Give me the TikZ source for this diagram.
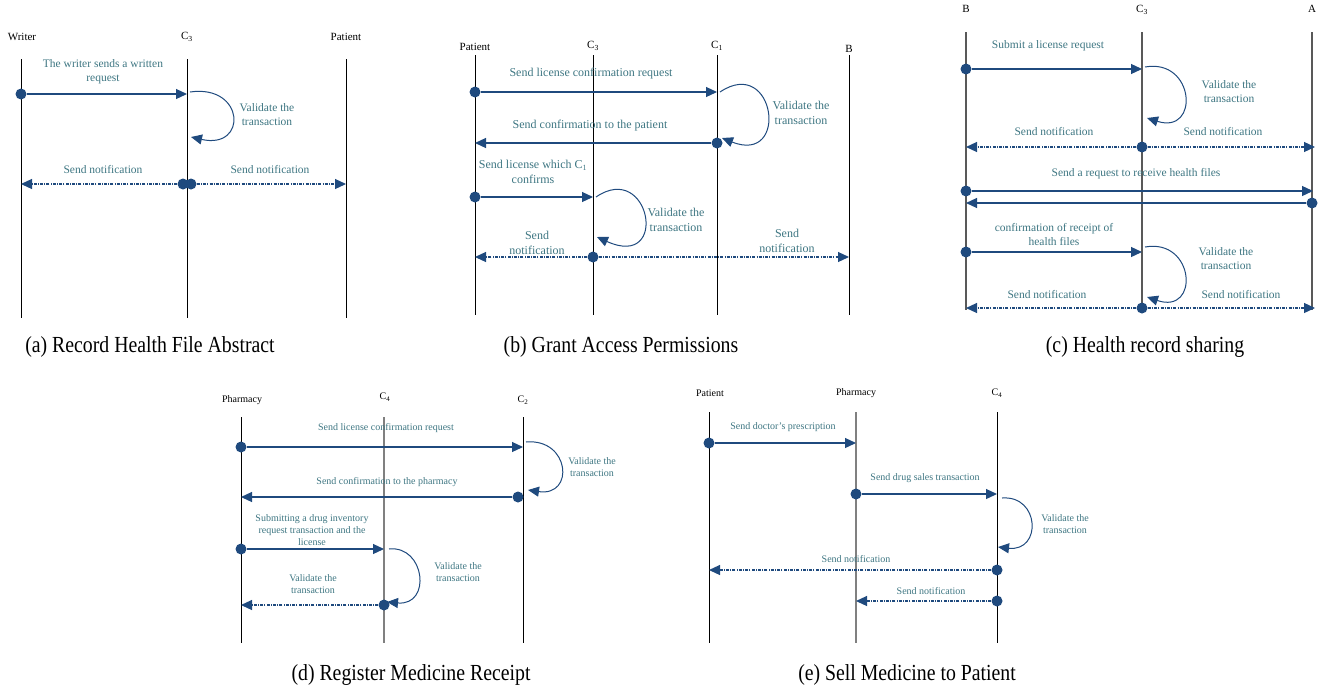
\documentclass[tikz,border=0pt]{standalone}
\usepackage{fontspec}
\setmainfont{Liberation Serif}
\usetikzlibrary{arrows.meta}
\definecolor{navy}{HTML}{1F4A7E}
\definecolor{lbl}{HTML}{3E7682}
\newcommand{\captionsq}[1]{\scalebox{0.86}[1]{#1}}
\begin{document}
\begin{tikzpicture}[x=1pt,y=-1pt,
 life/.style={line width=1pt, black},
 lifeg/.style={line width=1.8pt, black!50},
 lifec/.style={line width=1.3pt, black!65},
 hd/.style={font=\fontsize{11}{12}\selectfont, text=black, inner sep=0},
 hds/.style={font=\fontsize{10}{11}\selectfont, text=black, inner sep=0},
 lb/.style={font=\fontsize{11.5}{14}\selectfont, text=lbl, align=center, inner sep=0},
 lbb/.style={font=\fontsize{12}{14.5}\selectfont, text=lbl, align=center, inner sep=0},
 lbs/.style={font=\fontsize{10}{12}\selectfont, text=lbl, align=center, inner sep=0},
 dot/.style={circle, fill=navy, minimum size=11pt, inner sep=0},
 msg/.style={navy, line width=1.2pt, -{Triangle[length=11pt,width=10pt]}},
 ntf/.style={msg, dash pattern=on 3pt off 1.2pt on 1pt off 1.2pt},
 selfloop/.style={navy, line width=1pt, -{Triangle[length=11pt,width=10pt]}},
 captxt/.style={font=\fontsize{23}{26}\selectfont, text=black, inner sep=0}]
\useasboundingbox (0,0) rectangle (1332,694);

% ================= (a) =================
\node[hd] (aWh) at (22,37) {Writer};
\node[hd] (aCh) at (187,37) {C\textsubscript{3}};
\node[hd] (aPh) at (346,37) {Patient};
\draw[life] (21,59) coordinate (aWt) -- (21,318) coordinate (aWb);
\draw[life] (187,59) coordinate (aCt) -- (187,318) coordinate (aCb);
\draw[life] (346,59) coordinate (aPt) -- (346,318) coordinate (aPb);
\node[lb] (al1) at (103,72) {The writer sends a written\\request};
\node[dot] (ad1) at (21,94) {};
\coordinate (aC1) at (187,94);
\draw[msg] (ad1) -- (aC1);
\coordinate (aL1s) at (190,92);
\coordinate (aL1e) at (191,137);
\draw[selfloop] (aL1s) .. controls (245,84) and (248,150) .. (aL1e);
\node[lb] (al2) at (267,115) {Validate the\\transaction};
\node[lb] (al3) at (103,170) {Send notification};
\node[lb] (al4) at (270,170) {Send notification};
\node[dot] (ad2) at (183,184) {};
\node[dot] (ad3) at (191,184) {};
\coordinate (aW2) at (21,184);
\coordinate (aP2) at (346,184);
\draw[ntf] (ad2) -- (aW2);
\draw[ntf] (ad3) -- (aP2);
\node[captxt] (acap) at (150,347) {\captionsq{(a) Record Health File Abstract}};

% ================= (b) =================
\node[hd] (bPh) at (475,47) {Patient};
\node[hd] (bC3h) at (593,46) {C\textsubscript{3}};
\node[hd] (bC1h) at (717,46) {C\textsubscript{1}};
\node[hd] (bBh) at (849,49) {B};
\draw[life] (475,55) coordinate (bPt) -- (475,315) coordinate (bPb);
\draw[life] (593,55) coordinate (bC3t) -- (593,315) coordinate (bC3b);
\draw[life] (717,55) coordinate (bC1t) -- (717,315) coordinate (bC1b);
\draw[life] (849,55) coordinate (bBt) -- (849,315) coordinate (bBb);
\node[lbb] (bl1) at (591,74) {Send license confirmation request};
\node[dot] (bd1) at (475,92) {};
\coordinate (bC1a) at (717,92);
\draw[msg] (bd1) -- (bC1a);
\coordinate (bL1s) at (720,92);
\coordinate (bL1e) at (722,138);
\draw[selfloop] (bL1s) .. controls (775,55) and (790,165) .. (bL1e);
\node[lbb] (bl2) at (801,113) {Validate the\\transaction};
\node[lbb] (bl3) at (590,126) {Send confirmation to the patient};
\node[dot] (bd2) at (717,143) {};
\coordinate (bPa) at (475,143);
\draw[msg] (bd2) -- (bPa);
\node[lbb] (bl4) at (533,172) {Send license which C\textsubscript{1}\\confirms};
\node[dot] (bd3) at (475,197) {};
\coordinate (bC3a) at (593,197);
\draw[msg] (bd3) -- (bC3a);
\coordinate (bL2s) at (596,197);
\coordinate (bL2e) at (597,237);
\draw[selfloop] (bL2s) .. controls (650,160) and (670,270) .. (bL2e);
\node[lbb] (bl5) at (676,220) {Validate the\\transaction};
\node[lbb] (bl6) at (537,243) {Send\\notification};
\node[lbb] (bl7) at (787,241) {Send\\notification};
\node[dot] (bd4) at (593,257) {};
\coordinate (bPn) at (475,257);
\coordinate (bBn) at (849,257);
\draw[ntf] (bd4) -- (bPn);
\draw[ntf] (bd4) -- (bBn);
\node[captxt] (bcap) at (621,347) {\captionsq{(b) Grant Access Permissions}};

% ================= (c) =================
\node[hd] (cBh) at (966,9) {B};
\node[hd] (cC3h) at (1142,10) {C\textsubscript{3}};
\node[hd] (cAh) at (1312,9) {A};
\draw[lifec] (966,32) coordinate (cBt) -- (966,310) coordinate (cBb);
\draw[lifec] (1142,32) coordinate (cCt) -- (1142,310) coordinate (cCb);
\draw[lifec] (1312,32) coordinate (cAt) -- (1312,310) coordinate (cAb);
\node[lb] (cl1) at (1048,46) {Submit a license request};
\node[dot] (cd1) at (966,69) {};
\coordinate (cC1) at (1142,69);
\draw[msg] (cd1) -- (cC1);
\coordinate (cL1s) at (1145,67);
\coordinate (cL1e) at (1147,118);
\draw[selfloop] (cL1s) .. controls (1195,58) and (1200,135) .. (cL1e);
\node[lb] (cl2) at (1229,92) {Validate the\\transaction};
\node[lb] (cl3) at (1054,132) {Send notification};
\node[lb] (cl4) at (1223,132) {Send notification};
\node[dot] (cd2) at (1142,147) {};
\coordinate (cB2) at (966,147);
\coordinate (cA2) at (1315,147);
\draw[ntf] (cd2) -- (cB2);
\draw[ntf] (cd2) -- (cA2);
\node[lb] (cl5) at (1136,174) {Send a request to receive health files};
\node[dot] (cd3) at (966,191) {};
\coordinate (cA3) at (1313,191);
\draw[msg] (cd3) -- (cA3);
\node[dot] (cd4) at (1312,203) {};
\coordinate (cB4) at (966,203);
\draw[msg] (cd4) -- (cB4);
\node[lb] (cl6) at (1054,235) {confirmation of receipt of\\health files};
\node[dot] (cd5) at (966,252) {};
\coordinate (cC5) at (1142,252);
\draw[msg] (cd5) -- (cC5);
\coordinate (cL2s) at (1145,247);
\coordinate (cL2e) at (1147,297);
\draw[selfloop] (cL2s) .. controls (1195,238) and (1200,315) .. (cL2e);
\node[lb] (cl7) at (1226,259) {Validate the\\transaction};
\node[lb] (cl8) at (1047,295) {Send notification};
\node[lb] (cl9) at (1241,295) {Send notification};
\node[dot] (cd6) at (1142,308) {};
\coordinate (cB6) at (966,308);
\coordinate (cA6) at (1315,308);
\draw[ntf] (cd6) -- (cB6);
\draw[ntf] (cd6) -- (cA6);
\node[captxt] (ccap) at (1145,347) {\captionsq{(c) Health record sharing}};

% ================= (d) =================
\node[hds] (dPh) at (242,400) {Pharmacy};
\node[hds] (dC4h) at (385,397) {C\textsubscript{4}};
\node[hds] (dC2h) at (523,400) {C\textsubscript{2}};
\draw[life] (241,417) coordinate (dPt) -- (241,643) coordinate (dPb);
\draw[lifeg] (384,417) coordinate (dC4t) -- (384,643) coordinate (dC4b);
\draw[life] (523,417) coordinate (dC2t) -- (523,643) coordinate (dC2b);
\node[lbs] (dl1) at (386,428) {Send license confirmation request};
\node[dot] (dd1) at (241,447) {};
\coordinate (dC2a) at (523,447);
\draw[msg] (dd1) -- (dC2a);
\coordinate (dL1s) at (526,442);
\coordinate (dL1e) at (528,490);
\draw[selfloop] (dL1s) .. controls (570,438) and (575,497) .. (dL1e);
\node[lbs] (dl2) at (592,467) {Validate the\\transaction};
\node[lbs] (dl3) at (387,482) {Send confirmation to the pharmacy};
\node[dot] (dd2) at (518,497) {};
\coordinate (dPa) at (241,497);
\draw[msg] (dd2) -- (dPa);
\node[lbs] (dl4) at (312,530) {Submitting a drug inventory\\request transaction and the\\license};
\node[dot] (dd3) at (241,549) {};
\coordinate (dC4a) at (384,549);
\draw[msg] (dd3) -- (dC4a);
\coordinate (dL2s) at (389,549);
\coordinate (dL2e) at (387,602);
\draw[selfloop] (dL2s) .. controls (425,545) and (432,606) .. (dL2e);
\node[lbs] (dl5) at (458,572) {Validate the\\transaction};
\node[lbs] (dl6) at (313,584) {Validate the\\transaction};
\node[dot] (dd4) at (384,605) {};
\coordinate (dPn) at (241,605);
\draw[ntf] (dd4) -- (dPn);
\node[captxt] (dcap) at (411,675) {\captionsq{(d) Register Medicine Receipt}};

% ================= (e) =================
\node[hds] (ePh) at (710,393) {Patient};
\node[hds] (eFh) at (856,393) {Pharmacy};
\node[hds] (eC4h) at (997,393) {C\textsubscript{4}};
\draw[life] (709,412) coordinate (ePt) -- (709,643) coordinate (ePb);
\draw[lifeg] (856,412) coordinate (eFt) -- (856,643) coordinate (eFb);
\draw[life] (997,412) coordinate (eCt) -- (997,643) coordinate (eCb);
\node[lbs] (el1) at (783,427) {Send doctor's prescription};
\node[dot] (ed1) at (709,443) {};
\coordinate (eFa) at (856,443);
\draw[msg] (ed1) -- (eFa);
\node[lbs] (el2) at (925,478) {Send drug sales transaction};
\node[dot] (ed2) at (856,494) {};
\coordinate (eCa) at (997,494);
\draw[msg] (ed2) -- (eCa);
\coordinate (eLs) at (1002,498);
\coordinate (eLe) at (998,547);
\draw[selfloop] (eLs) .. controls (1040,495) and (1042,552) .. (eLe);
\node[lbs] (el3) at (1065,524) {Validate the\\transaction};
\node[lbs] (el4) at (856,559) {Send notification};
\node[dot] (ed3) at (997,570) {};
\coordinate (ePn) at (709,570);
\draw[ntf] (ed3) -- (ePn);
\node[lbs] (el5) at (931,591) {Send notification};
\node[dot] (ed4) at (997,601) {};
\coordinate (eFn) at (856,601);
\draw[ntf] (ed4) -- (eFn);
\node[captxt] (ecap) at (907,675) {\captionsq{(e) Sell Medicine to Patient}};
\end{tikzpicture}
\end{document}
